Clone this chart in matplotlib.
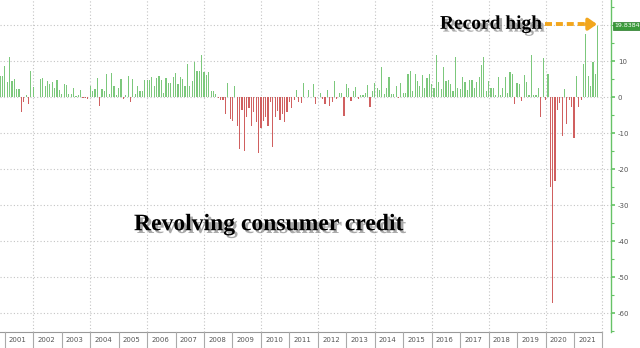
import numpy as np
import pandas as pd
import matplotlib
matplotlib.use('Agg')
import matplotlib.pyplot as plt
import matplotlib.patheffects as pe
import matplotlib.transforms as mtransforms
from matplotlib.ticker import MultipleLocator

plt.rcParams['axes.unicode_minus'] = False

# variação mensal do crédito rotativo (US$ bi), nov/2000 a nov/2021
valores = [
    6.0, 6.0, 8.8, 4.2, 11.2, 4.5, 5.1, 2.3, 2.3, -4.2, -1.4, 0.6, -1.9, 7.3, 2.9,
    0.1, 0.1, 5.1, 5.3, 3.2, 4.4, 3.6, 4.2, 2.5, 4.8, 2.0, 1.0, 3.8, 3.4, 1.0,
    1.0, 2.5, 0.3, 0.6, 1.9, -0.1, -0.3, -0.4, 3.1, 1.6, 2.3, 5.3, -2.5, 2.2,
    1.6, 6.4, 0.8, 6.7, 3.1, 0.5, 2.5, 5.1, -0.5, 0.5, 6.0, -1.4, 5.0, 0.8, 3.0,
    1.8, 1.6, 4.8, 4.7, 4.8, 5.7, 3.0, 5.3, 5.9, 4.8, 1.1, 5.3, 4.0, 3.9, 5.7,
    6.6, 3.6, 5.7, 5.1, 3.1, 9.3, 3.2, 4.4, 9.7, 7.3, 7.3, 11.8, 7.1,
    6.2, 6.9, 1.8, 1.8, 0.9, -0.1, -0.8, -0.8, -4.7, 3.9, -6.0, -6.5, 3.1, -8.1,
    -14.4, -3.6, -14.8, -5.5, -2.9, -8.1, -4.2, -7.0, -15.6, -8.6, -6.6, -5.6,
    -7.9, -1.2, -13.8, -5.6, -3.8, -6.4, -4.7, -6.8, -4.2, -1.2, -2.9, -0.8,
    1.9, -1.4, -1.7, 3.9,
    0.2, 2.0, 0.2, 3.8, -1.9, 0.1, 1.1, -0.5, -1.9, 1.9, -2.3, -1.4, 4.4, -0.5,
    1.1, 1.1, -5.1, 3.6, 2.7, -1.0, 1.8, 2.9, -0.5, 0.5, 0.6, 1.1, 3.4, -2.6,
    1.8, 3.9, 2.5, 1.9, 8.3, 0.8, 2.5, 5.6, 0.8, 0.9, 3.0, -0.3, 3.9,
    1.1, 1.1, 6.4, 7.3, 1.6, 6.4, 4.4, 3.1, 6.2, 2.5, 5.3, 6.4, 3.6, 2.5, 11.8,
    4.2, 2.3, 8.5, 4.4, 4.7, 3.6, 1.8, 11.1, 2.7, 2.3, 5.5, 4.2, 1.9, 4.7, 4.7,
    2.5, 4.2, 5.7, 9.0, 11.1, 1.8, 4.5, 2.5, 2.5, 0.5, 5.6, 0.5, 2.5,
    5.6, 1.3, 6.9, 6.5, -1.9, 3.9, 3.7, -1.0, 6.2, 4.1, 0.6, 11.6, 0.6, 0.5,
    2.5, -5.6, 10.8, -0.7, 6.5,
    -24.8, -57.1, -23.4,
    -3.5, -1.7, -10.9, 2.2, -7.5, -0.7, -2.6, -11.4, 5.9, -2.6, -0.7, 9.3, 17.6,
    5.9, 3.1, 9.9, 6.5, 19.8384,
]
meses = pd.date_range('2000-11-01', periods=len(valores), freq='MS')
anos = list(range(2001, 2022))
ticks_y = list(range(-60, 11, 10))
titulo = 'Revolving consumer credit'
destaque = 'Record high'

verde = '#7cc87c'
vermelho = '#d06060'
verde_eixo = '#66c266'
laranja = '#f2a61d'
cinza_grid = '#c4c4c4'

x = np.arange(len(valores))
meses_ext = pd.date_range(meses[0], '2022-01-01', freq='MS')
jan = {m.year: i for i, m in enumerate(meses_ext) if m.month == 1}

fig = plt.figure(figsize=(6.4, 3.48), dpi=100)
ax = fig.add_axes([0, 16 / 348, 611 / 640, 332 / 348])

cores = [verde if v >= 0 else vermelho for v in valores]
ax.bar(x, valores, width=0.5, color=cores, zorder=2)

ax.set_xlim(-0.03, 257.6)
ax.set_ylim(-65.2, 27.0)

# grade pontilhada
for v in range(-60, 21, 10):
    ax.axhline(v, ls=(0, (1, 2)), color=cinza_grid, lw=0.8, zorder=1)
for a in range(2002, 2023, 2):
    ax.axvline(jan[a], ls=(0, (1, 2)), color=cinza_grid, lw=0.8, zorder=1)

# eixo da direita
ax.yaxis.tick_right()
ax.set_yticks(ticks_y)
ax.yaxis.set_minor_locator(MultipleLocator(5))
ax.tick_params(axis='y', which='major', direction='out', length=3, width=1.2,
               color=verde_eixo, labelsize=5, labelcolor='#555555', pad=2)
ax.tick_params(axis='y', which='minor', direction='out', length=2, width=0.8,
               color=verde_eixo)
ax.tick_params(axis='x', bottom=False, labelbottom=False)
for lado in ['top', 'left', 'bottom']:
    ax.spines[lado].set_visible(False)
ax.spines['right'].set_color(verde_eixo)
ax.spines['right'].set_linewidth(1)

# faixa dos anos embaixo
trans = mtransforms.blended_transform_factory(ax.transData, ax.transAxes)
ax.plot([-0.03, jan[2022]], [0, 0], transform=trans, color='#999999', lw=0.8, clip_on=False)
for a in range(2001, 2023):
    ax.plot([jan[a], jan[a]], [0, -16 / 332], transform=trans, color='#aaaaaa',
            lw=0.8, clip_on=False)
for a in anos:
    ax.text(jan[a] + 5.5, -8 / 332, str(a), transform=trans, ha='center', va='center',
            fontsize=5, color='#555555')

# rótulo do último valor
trans_y = mtransforms.blended_transform_factory(ax.transAxes, ax.transData)
ax.text(1.005, valores[-1], f'{valores[-1]:.4f}', transform=trans_y, ha='left',
        va='center', fontsize=4.5, color='white',
        bbox=dict(boxstyle='square,pad=0.2', fc='#3a9a3a', ec='#2a7a2a', lw=0.5))

# seta "Record high"
y_seta = valores[-1] + 0.45
ax.plot([229.7, 248.0], [y_seta, y_seta], ls=(0, (1.8, 1.0)), color=laranja, lw=2.8,
        dash_capstyle='butt', zorder=4)
ax.annotate('', xy=(x[-1] - 0.3, y_seta), xytext=(247.0, y_seta),
            arrowprops=dict(arrowstyle='-|>,head_length=0.5,head_width=0.35',
                            color=laranja, lw=2.5, shrinkA=0, shrinkB=0), zorder=4)

sombra = [pe.withSimplePatchShadow(offset=(2, -2), shadow_rgbFace='#555555', alpha=0.5)]
ax.text(228.7, 19.0, destaque, ha='right', va='baseline', fontsize=14,
        family='Liberation Serif', weight='bold', path_effects=sombra, zorder=5)
ax.text(113.4, -35.4, titulo, ha='center', va='center', fontsize=17,
        family='Liberation Serif', weight='bold', path_effects=sombra, zorder=5)

fig.savefig('out.png', dpi=100)
